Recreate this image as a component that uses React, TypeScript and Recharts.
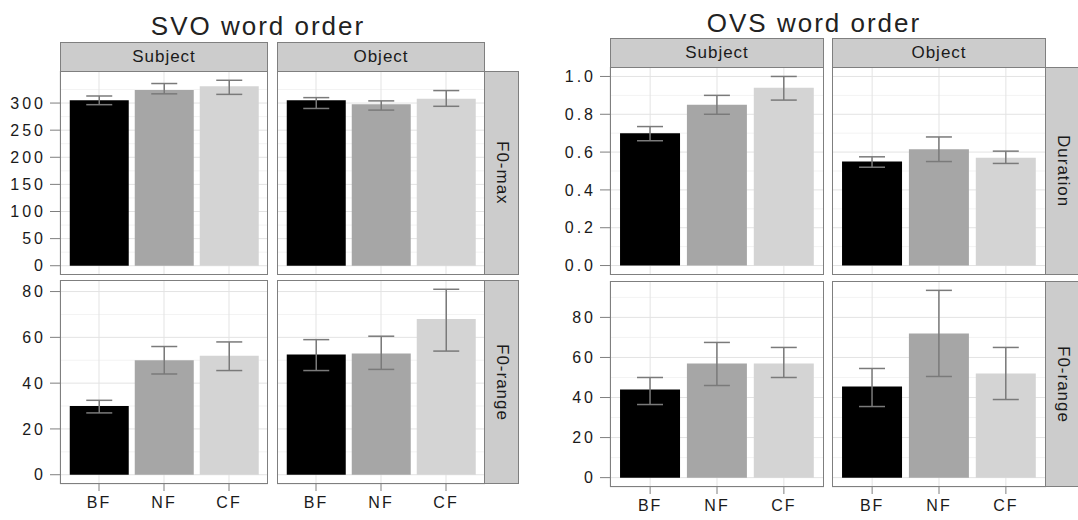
import React from 'react';
import { BarChart, Bar, XAxis, YAxis, CartesianGrid, ErrorBar, Cell } from 'recharts';

const categories = ['BF', 'NF', 'CF'];
const barColors = ['#000000', '#A6A6A6', '#D4D4D4'];

// SVO word order, F0-max
const svoMaxSubject = [305, 324, 331];
const svoMaxSubjectCI = [[297, 313], [317, 336], [316, 342]];
const svoMaxObject = [305, 298, 308];
const svoMaxObjectCI = [[290, 310], [287, 304], [294, 323]];
// SVO word order, F0-range
const svoRangeSubject = [30, 50, 52];
const svoRangeSubjectCI = [[27, 32.5], [44, 56], [45.5, 58]];
const svoRangeObject = [52.5, 53, 68];
const svoRangeObjectCI = [[45.5, 59], [46, 60.5], [54, 81]];
// OVS word order, Duration
const ovsDurSubject = [0.7, 0.85, 0.94];
const ovsDurSubjectCI = [[0.66, 0.735], [0.8, 0.9], [0.875, 1.0]];
const ovsDurObject = [0.55, 0.615, 0.57];
const ovsDurObjectCI = [[0.52, 0.575], [0.55, 0.68], [0.54, 0.605]];
// OVS word order, F0-range
const ovsRangeSubject = [44, 57, 57];
const ovsRangeSubjectCI = [[36.5, 50], [46, 67.5], [50, 65]];
const ovsRangeObject = [45.5, 72, 52];
const ovsRangeObjectCI = [[35.5, 54.5], [50.5, 93.5], [39, 65]];

const f0MaxTicks = [0, 50, 100, 150, 200, 250, 300];
const f0MaxMinor = [25, 75, 125, 175, 225, 275, 325];
const f0RangeTicks = [0, 20, 40, 60, 80];
const svoRangeMinor = [10, 30, 50, 70];
const ovsRangeMinor = [10, 30, 50, 70, 90];
const durTicks = [0, 0.2, 0.4, 0.6, 0.8, 1.0];
const durMinor = [0.1, 0.3, 0.5, 0.7, 0.9];

const FONT = '"Liberation Sans", Arial, sans-serif';
const Y_W = 60;
const X_H = 40;
const BORDER = '#7f7f7f';

// ggplot style: 5% expansion around [0, max]
function rowDomain(...cis: number[][][]): [number, number] {
  const max = Math.max(...cis.flat().map((c) => c[1]));
  return [-max * 0.05, max * 1.05];
}

interface FacetProps {
  left: number;
  top: number;
  w: number;
  h: number;
  vals: number[];
  ci: number[][];
  domain: [number, number];
  ticks: number[];
  minor: number[];
  fmt?: (v: number) => string;
  showY: boolean;
  showX: boolean;
}

function Facet({ left, top, w, h, vals, ci, domain, ticks, minor, fmt, showY, showX }: FacetProps) {
  const data = categories.map((c, i) => ({
    cat: c,
    v: vals[i],
    err: [vals[i] - ci[i][0], ci[i][1] - vals[i]],
  }));
  const yW = showY ? Y_W : 0;
  const xH = showX ? X_H : 0;
  const pad = w / 32;
  return (
    <>
      <div style={{ position: 'absolute', left: left - yW, top }}>
        <BarChart
          width={w + yW}
          height={h + xH}
          data={data}
          margin={{ top: 0, right: 0, bottom: 0, left: 0 }}
          barCategoryGap="5%"
        >
          <CartesianGrid vertical={false} horizontalValues={minor} stroke="#F3F3F3" />
          <CartesianGrid stroke="#E3E3E3" />
          <XAxis
            dataKey="cat"
            hide={!showX}
            height={X_H}
            padding={{ left: pad, right: pad }}
            axisLine={false}
            tickLine={{ stroke: BORDER }}
            tickSize={7}
            tickMargin={6}
            interval={0}
            tick={{ fill: '#1a1a1a', fontSize: 16, letterSpacing: 2 }}
          />
          <YAxis
            type="number"
            domain={domain}
            allowDataOverflow
            ticks={ticks}
            interval={0}
            hide={!showY}
            width={Y_W}
            axisLine={false}
            tickLine={{ stroke: BORDER }}
            tickSize={10}
            tickMargin={4}
            tickFormatter={fmt}
            tick={{ fill: '#1a1a1a', fontSize: 16, letterSpacing: 3 }}
          />
          <Bar dataKey="v" isAnimationActive={false}>
            {data.map((d, i) => (
              <Cell key={d.cat} fill={barColors[i]} />
            ))}
            <ErrorBar dataKey="err" width={13} stroke="#7a7a7a" strokeWidth={1.5} isAnimationActive={false} />
          </Bar>
        </BarChart>
      </div>
      <div
        style={{
          position: 'absolute',
          left,
          top,
          width: w,
          height: h,
          border: `1px solid ${BORDER}`,
          boxSizing: 'border-box',
          pointerEvents: 'none',
        }}
      />
    </>
  );
}

function TopStrip({ left, top, w, h, label }: { left: number; top: number; w: number; h: number; label: string }) {
  return (
    <div
      style={{
        position: 'absolute',
        left,
        top,
        width: w,
        height: h + 1,
        background: '#CCCCCC',
        border: `1px solid ${BORDER}`,
        boxSizing: 'border-box',
        display: 'flex',
        alignItems: 'center',
        justifyContent: 'center',
        fontSize: 17,
        letterSpacing: 1,
        color: '#1a1a1a',
      }}
    >
      {label}
    </div>
  );
}

function SideStrip({ left, top, w, h, label }: { left: number; top: number; w: number; h: number; label: string }) {
  return (
    <div
      style={{
        position: 'absolute',
        left: left - 1,
        top,
        width: w + 1,
        height: h,
        background: '#CCCCCC',
        border: `1px solid ${BORDER}`,
        boxSizing: 'border-box',
        display: 'flex',
        alignItems: 'center',
        justifyContent: 'center',
        writingMode: 'vertical-rl',
        fontSize: 17,
        letterSpacing: 1,
        color: '#1a1a1a',
      }}
    >
      {label}
    </div>
  );
}

function Title({ cx, top, text }: { cx: number; top: number; text: string }) {
  return (
    <div
      style={{
        position: 'absolute',
        left: cx - 200,
        top,
        width: 400,
        textAlign: 'center',
        fontSize: 26,
        lineHeight: '28px',
        letterSpacing: 2,
        color: '#222',
      }}
    >
      {text}
    </div>
  );
}

export default function App() {
  const svoMaxDomain = rowDomain(svoMaxSubjectCI, svoMaxObjectCI);
  const svoRangeDomain = rowDomain(svoRangeSubjectCI, svoRangeObjectCI);
  const ovsDurDomain = rowDomain(ovsDurSubjectCI, ovsDurObjectCI);
  const ovsRangeDomain = rowDomain(ovsRangeSubjectCI, ovsRangeObjectCI);
  const dur = (v: number) => v.toFixed(1);

  // SVO layout
  const sL = [60, 277];
  const sW = 208;
  const sTop = 71;
  const sH = 204;
  const sBot = 280;
  // OVS layout
  const oL = [610, 832];
  const oW = 214;
  const oTop = 67;
  const oH1 = 208;
  const oBot = 281;
  const oH2 = 206;

  return (
    <div
      style={{
        position: 'absolute',
        left: 0,
        top: 0,
        width: 1078,
        height: 520,
        background: '#fff',
        overflow: 'hidden',
        fontFamily: FONT,
      }}
    >
      <Title cx={258} top={12} text="SVO word order" />
      <TopStrip left={sL[0]} top={42} w={sW} h={sTop - 42} label="Subject" />
      <TopStrip left={sL[1]} top={42} w={sW} h={sTop - 42} label="Object" />
      <Facet left={sL[0]} top={sTop} w={sW} h={sH} vals={svoMaxSubject} ci={svoMaxSubjectCI} domain={svoMaxDomain} ticks={f0MaxTicks} minor={f0MaxMinor} showY showX={false} />
      <Facet left={sL[1]} top={sTop} w={sW} h={sH} vals={svoMaxObject} ci={svoMaxObjectCI} domain={svoMaxDomain} ticks={f0MaxTicks} minor={f0MaxMinor} showY={false} showX={false} />
      <Facet left={sL[0]} top={sBot} w={sW} h={sH} vals={svoRangeSubject} ci={svoRangeSubjectCI} domain={svoRangeDomain} ticks={f0RangeTicks} minor={svoRangeMinor} showY showX />
      <Facet left={sL[1]} top={sBot} w={sW} h={sH} vals={svoRangeObject} ci={svoRangeObjectCI} domain={svoRangeDomain} ticks={f0RangeTicks} minor={svoRangeMinor} showY={false} showX />
      <SideStrip left={sL[1] + sW} top={sTop} w={34} h={sH} label="F0-max" />
      <SideStrip left={sL[1] + sW} top={sBot} w={34} h={sH} label="F0-range" />

      <Title cx={814} top={9} text="OVS word order" />
      <TopStrip left={oL[0]} top={38} w={oW} h={oTop - 38} label="Subject" />
      <TopStrip left={oL[1]} top={38} w={oW} h={oTop - 38} label="Object" />
      <Facet left={oL[0]} top={oTop} w={oW} h={oH1} vals={ovsDurSubject} ci={ovsDurSubjectCI} domain={ovsDurDomain} ticks={durTicks} minor={durMinor} fmt={dur} showY showX={false} />
      <Facet left={oL[1]} top={oTop} w={oW} h={oH1} vals={ovsDurObject} ci={ovsDurObjectCI} domain={ovsDurDomain} ticks={durTicks} minor={durMinor} fmt={dur} showY={false} showX={false} />
      <Facet left={oL[0]} top={oBot} w={oW} h={oH2} vals={ovsRangeSubject} ci={ovsRangeSubjectCI} domain={ovsRangeDomain} ticks={f0RangeTicks} minor={ovsRangeMinor} showY showX />
      <Facet left={oL[1]} top={oBot} w={oW} h={oH2} vals={ovsRangeObject} ci={ovsRangeObjectCI} domain={ovsRangeDomain} ticks={f0RangeTicks} minor={ovsRangeMinor} showY={false} showX />
      <SideStrip left={oL[1] + oW} top={oTop} w={34} h={oH1} label="Duration" />
      <SideStrip left={oL[1] + oW} top={oBot} w={34} h={oH2} label="F0-range" />
    </div>
  );
}
